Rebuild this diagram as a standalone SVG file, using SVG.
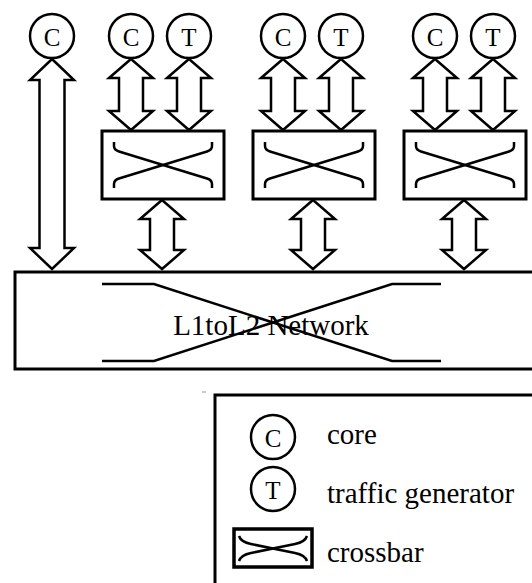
<svg xmlns="http://www.w3.org/2000/svg" xmlns:xlink="http://www.w3.org/1999/xlink" width="532" height="583" viewBox="0 0 532 583">
  <style>
    .ln { fill: none; stroke: #000; stroke-width: 2.5; stroke-linejoin: miter; }
    .box { fill: #fff; stroke: #000; stroke-width: 3; }
    .node { fill: #fff; stroke: #000; stroke-width: 2.5; }
    .arrow { fill: #fff; stroke: #000; stroke-width: 2.5; stroke-linejoin: miter; }
    text { font-family: 'Liberation Serif', 'DejaVu Serif', serif; fill: #000; }
    .ltr { font-size: 25px; text-anchor: middle; }
    .big { font-size: 29px; text-anchor: middle; }
    .leg { font-size: 29px; }
  </style>
  <defs>
    <!-- crossbar switch: box with an X whose ends hook vertically -->
    <g id="xbar">
      <rect class="box" x="0" y="0" width="122" height="68"/>
      <path class="ln" d="M12,11 L12,15 Q12,19 17,20.5 L105,47.5 Q110,49 110,53 L110,57"/>
      <path class="ln" d="M12,57 L12,53 Q12,49 17,47.5 L105,20.5 Q110,19 110,15 L110,11"/>
    </g>
  </defs>

  <!-- L1toL2 network -->
  <g id="network">
    <rect class="box" x="15" y="272" width="530" height="97"/>
    <path class="ln" d="M102,284 L154,284 L392,361 L441,361"/>
    <path class="ln" d="M102,361 L154,361 L392,284 L441,284"/>
    <text class="big" x="271" y="335" font-family="Liberation Serif, serif">L1toL2 Network</text>
  </g>

  <!-- crossbars -->
  <g id="xbar1"><use xlink:href="#xbar" x="102" y="131"/></g>
  <g id="xbar2"><use xlink:href="#xbar" x="253" y="131"/></g>
  <g id="xbar3"><use xlink:href="#xbar" x="404" y="131"/></g>

  <!-- bidirectional links -->
  <g id="connectors">
    <!-- stand-alone core straight to the network -->
    <path class="arrow" d="M52,59 L74,80 L64.5,80 L64.5,248 L74,248 L52,269 L30,248 L39.5,248 L39.5,80 L30,80 Z"/>
    <!-- cores / generators to crossbars -->
    <path class="arrow" d="M131,59 L153,78 L143,78 L143,111 L153,111 L131,130 L109,111 L119,111 L119,78 L109,78 Z"/>
    <path class="arrow" d="M189,59 L211,78 L201,78 L201,111 L211,111 L189,130 L167,111 L177,111 L177,78 L167,78 Z"/>
    <path class="arrow" d="M283,59 L305,78 L295,78 L295,111 L305,111 L283,130 L261,111 L271,111 L271,78 L261,78 Z"/>
    <path class="arrow" d="M341,59 L363,78 L353,78 L353,111 L363,111 L341,130 L319,111 L329,111 L329,78 L319,78 Z"/>
    <path class="arrow" d="M435,59 L457,78 L447,78 L447,111 L457,111 L435,130 L413,111 L423,111 L423,78 L413,78 Z"/>
    <path class="arrow" d="M493,59 L515,78 L505,78 L505,111 L515,111 L493,130 L471,111 L481,111 L481,78 L471,78 Z"/>
    <!-- crossbars to the network -->
    <path class="arrow" d="M162,200 L184,219 L174,219 L174,250 L184,250 L162,269 L140,250 L150,250 L150,219 L140,219 Z"/>
    <path class="arrow" d="M313,200 L335,219 L325,219 L325,250 L335,250 L313,269 L291,250 L301,250 L301,219 L291,219 Z"/>
    <path class="arrow" d="M464,200 L486,219 L476,219 L476,250 L486,250 L464,269 L442,250 L452,250 L452,219 L442,219 Z"/>
  </g>

  <!-- cores and traffic generators -->
  <g id="core0"><circle class="node" cx="52" cy="36" r="22"/><text class="ltr" x="52" y="46">C</text></g>
  <g id="core1"><circle class="node" cx="131" cy="36" r="22"/><text class="ltr" x="131" y="46">C</text></g>
  <g id="tg1"><circle class="node" cx="189" cy="36" r="22"/><text class="ltr" x="189" y="46">T</text></g>
  <g id="core2"><circle class="node" cx="283" cy="36" r="22"/><text class="ltr" x="283" y="46">C</text></g>
  <g id="tg2"><circle class="node" cx="341" cy="36" r="22"/><text class="ltr" x="341" y="46">T</text></g>
  <g id="core3"><circle class="node" cx="435" cy="36" r="22"/><text class="ltr" x="435" y="46">C</text></g>
  <g id="tg3"><circle class="node" cx="493" cy="36" r="22"/><text class="ltr" x="493" y="46">T</text></g>

  <!-- legend -->
  <g id="legend">
    <line x1="202" y1="392" x2="206" y2="392" stroke="#999" stroke-width="1"/>
    <rect class="box" x="215" y="395" width="340" height="200"/>
    <circle class="node" cx="273" cy="437" r="22"/>
    <text class="ltr" x="273" y="447">C</text>
    <text class="leg" x="327" y="444">core</text>
    <circle class="node" cx="273" cy="489" r="22"/>
    <text class="ltr" x="273" y="499">T</text>
    <text class="leg" x="327" y="503">traffic generator</text>
    <rect x="234" y="529" width="78" height="38" fill="#fff" stroke="#000" stroke-width="3.5"/>
    <path class="ln" d="M239,536 Q241,542 251,544 L295,553 Q305,555 307,561"/>
    <path class="ln" d="M239,561 Q241,555 251,553 L295,544 Q305,542 307,536"/>
    <text class="leg" x="327" y="562">crossbar</text>
  </g>
</svg>
